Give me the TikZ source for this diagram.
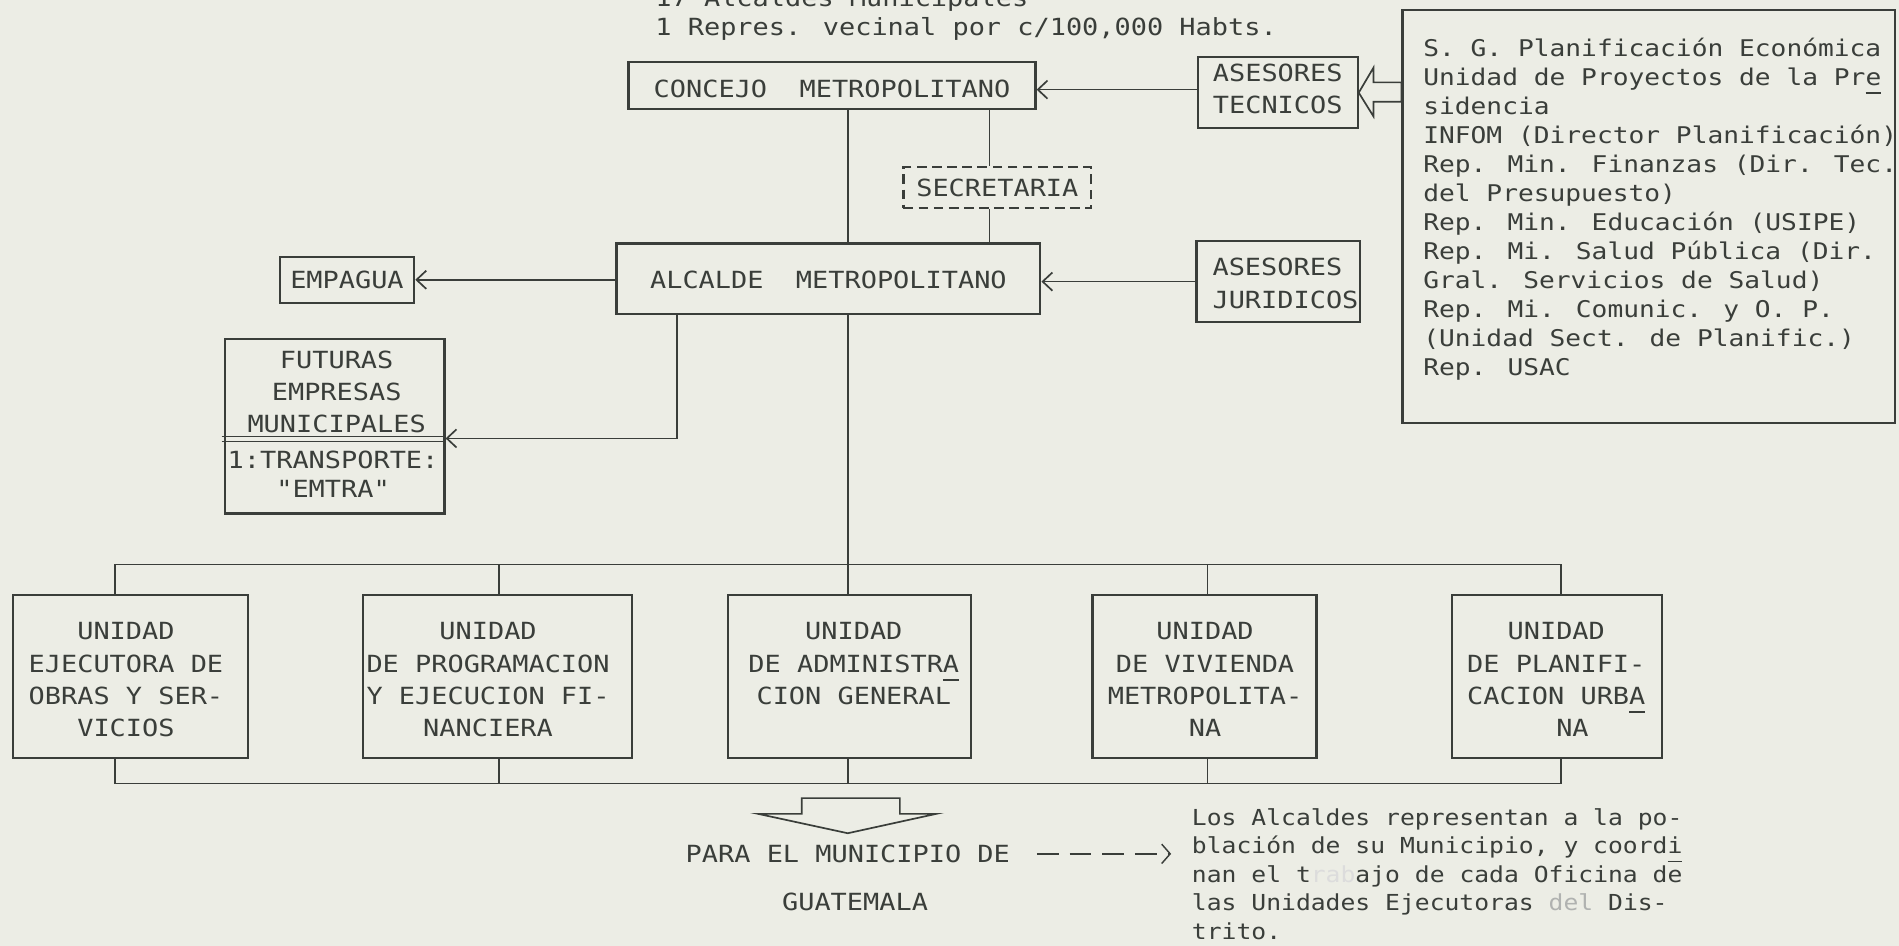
\documentclass[tikz,border=0pt]{standalone}
\usepackage{fontspec}
\usetikzlibrary{arrows.meta}
\newfontfamily\tw[FakeStretch=1.14]{DejaVu Sans Mono}
\newfontfamily\twn[FakeStretch=1.12]{DejaVu Sans Mono}
\definecolor{paper}{RGB}{236,237,229}
\definecolor{ink}{RGB}{58,62,58}
\newsavebox\tulbox
\newcommand\tul[1]{\sbox\tulbox{#1}\rlap{\rule[-7pt]{\wd\tulbox}{1.2pt}}\usebox\tulbox}
\begin{document}
\begin{tikzpicture}[x=1pt,y=-1pt,
  every node/.style={inner sep=0pt, text=ink},
  box/.style={draw=ink, line width=1.8pt},
  dbox/.style={draw=ink, line width=1.8pt, dash pattern=on 8pt off 4.5pt},
  txt/.style={font={\tw\fontsize{19.5pt}{26.5pt}\selectfont}, align=center},
  smalltxt/.style={font={\tw\fontsize{19.5pt}{23.5pt}\selectfont}, align=center},
  listtxt/.style={font={\tw\fontsize{19pt}{24pt}\selectfont}, align=left},
  notetxt/.style={font={\twn\fontsize{18.2pt}{23.5pt}\selectfont}, align=left},
  conn/.style={draw=ink, line width=1.4pt},
  arr/.style={conn, -{Straight Barb[length=8pt,width=15pt,line width=1.4pt]}},
]
\fill[paper] (0,0) rectangle (1568,781);
\useasboundingbox (0,0) rectangle (1568,781);

% top texts (the first line is cut by the upper edge, as in the original)
\node[txt, anchor=base west] (top1) at (541,5) {17 Alcaldes Municipales};
\node[txt, anchor=base west] (top2) at (541,29) {1 Repres. vecinal por c/100,000 Habts.};

% boxes
\node[box, minimum width=336pt, minimum height=39pt] (concejo) at (687,70.5) {};
\node[box, minimum width=132pt, minimum height=59pt] (tecn) at (1055,76.5) {};
\node[box, minimum width=407pt, minimum height=341pt] (big) at (1361.5,178.5) {};
\node[dbox, minimum width=155pt, minimum height=34pt] (secre) at (823.5,155) {};
\node[box, minimum width=350pt, minimum height=58pt] (alcalde) at (684,230) {};
\node[box, minimum width=135pt, minimum height=67pt] (jur) at (1055.5,232.5) {};
\node[box, minimum width=111pt, minimum height=38pt] (emp) at (286.5,231) {};
\node[box, minimum width=181pt, minimum height=144pt] (fut) at (276.5,352) {};
\node[box, minimum width=194pt, minimum height=135pt] (u1) at (108,558.5) {};
\node[box, minimum width=222pt, minimum height=135pt] (u2) at (411,558.5) {};
\node[box, minimum width=201pt, minimum height=135pt] (u3) at (701.5,558.5) {};
\node[box, minimum width=185pt, minimum height=135pt] (u4) at (994.5,558.5) {};
\node[box, minimum width=173pt, minimum height=135pt] (u5) at (1285.5,558.5) {};

% box texts
\node[txt] (tconcejo) at (687,73) {CONCEJO\ \ METROPOLITANO};
\node[txt] (ttecn) at (1055,73.5) {ASESORES\\TECNICOS};
\node[txt] (tsecre) at (823.5,155) {SECRETARIA};
\node[txt] (talcalde) at (684,231) {ALCALDE\ \ METROPOLITANO};
\node[txt, align=left, anchor=west] (tjur) at (1001,234) {ASESORES\\JURIDICOS};
\node[txt] (temp) at (286.5,231) {EMPAGUA};
\node[txt] (tfut) at (278,323.5) {FUTURAS\\EMPRESAS\\MUNICIPALES};
\node[smalltxt] (tfut2) at (275,391.5) {1:TRANSPORTE:\\"EMTRA"};
\node[listtxt, anchor=north west] (tbig) at (1175,31) {S. G. Planificación Económica\\
Unidad de Proyectos de la Pr\tul{e}\\
sidencia\\
INFOM (Director Planificación)\\
Rep. Min. Finanzas (Dir. Tec.\\
del Presupuesto)\\
Rep. Min. Educación (USIPE)\\
Rep. Mi. Salud Pública (Dir.\\
Gral. Servicios de Salud)\\
Rep. Mi. Comunic. y O. P.\\
(Unidad Sect. de Planific.)\\
Rep. USAC};
\node[txt, anchor=north] (tu1) at (104,514) {UNIDAD\\EJECUTORA DE\\OBRAS Y SER-\\VICIOS};
\node[txt, anchor=north] (tu2) at (403,514) {UNIDAD\\DE PROGRAMACION\\Y EJECUCION FI-\\NANCIERA};
\node[txt, anchor=north] (tu3) at (705,514) {UNIDAD\\DE ADMINISTR\tul{A}\\CION GENERAL};
\node[txt, anchor=north] (tu4) at (995,514) {UNIDAD\\DE VIVIENDA\\METROPOLITA-\\NA};
\node[txt, anchor=north] (tu5) at (1285,514) {UNIDAD\\DE PLANIFI-\\CACION URB\tul{A}\\\hphantom{XX}NA};

% bottom texts
\node[txt, anchor=west] (para) at (566,705) {PARA EL MUNICIPIO DE};
\node[txt] (guat) at (706,745) {GUATEMALA};
\node[notetxt, anchor=north west] (notes) at (984,667.5) {Los Alcaldes representan a la po-\\
blación de su Municipio, y coord\tul{i}\\
nan el t{\color{ink!18}rab}ajo de cada Oficina de\\
las Unidades Ejecutoras {\color{ink!40}del} Dis-\\
trito.};

% helper coordinates
\coordinate (vx) at (700,466);
\coordinate (sx) at (817,0);
\coordinate (ly) at (0,74);
\coordinate (fc) at (559,362);
\coordinate (d1) at (95,466);
\coordinate (d2) at (412,466);
\coordinate (d3) at (700,466);
\coordinate (d4) at (997,466);
\coordinate (d5) at (1289,466);
\coordinate (bb) at (0,647);
\coordinate (tip) at (967,705);

% connectors
\draw[arr] (tecn.west |- ly) -- (concejo.east |- ly);
\draw[conn] (concejo.south -| vx) -- (alcalde.north -| vx);
\draw[conn] (concejo.south -| sx) -- (secre.north -| sx);
\draw[conn] (secre.south -| sx) -- (alcalde.north -| sx);
\draw[arr] (jur.west) -- (alcalde.east |- jur.west);
\draw[arr] (alcalde.west |- emp.east) -- (emp.east);
\draw[arr] (alcalde.south -| fc) -- (fc) -- (fc -| fut.east);
\draw[conn] (alcalde.south -| vx) -- (vx);
\draw[conn] (d1) -- (d5);
\foreach \i in {1,...,5} {
  \draw[conn] (d\i) -- (d\i |- u\i.north);
  \draw[conn] (u\i.south -| d\i) -- (d\i |- bb);
}
\draw[conn] (d1 |- bb) -- (d5 |- bb);

% divider inside FUTURAS box
\draw[draw=ink, line width=1.1pt] (183,360.5) -- (fut.east |- 0,360.5);
\draw[draw=ink, line width=1.1pt] (183,364.5) -- (fut.east |- 0,364.5);

% hollow block arrow into ASESORES TECNICOS
\draw[conn, line join=miter] (tecn.east) -- (1134,56) -- (1134,68) -- (big.west |- 0,68) -- (big.west |- 0,84) -- (1134,84) -- (1134,96) -- cycle;

% hollow block arrow down
\draw[conn, line join=miter] (662,659) -- (743,659) -- (743,672) -- (773,672) -- (700,688) -- (626,672) -- (662,672) -- cycle;

% dashed arrow to the notes
\draw[conn, line width=1.2pt, dash pattern=on 18pt off 9pt, -{Straight Barb[length=7pt,width=16pt,line width=1.2pt]}] ([xshift=22pt]para.east) -- (tip);
\end{tikzpicture}
\end{document}
